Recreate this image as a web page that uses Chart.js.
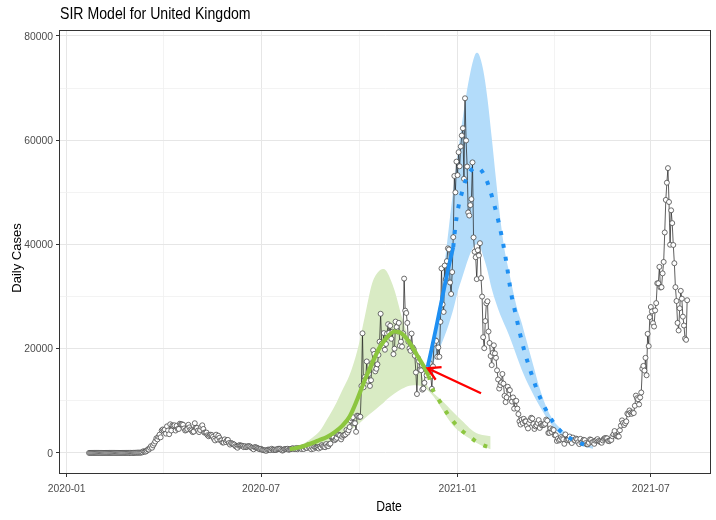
<!DOCTYPE html>
<html><head><meta charset="utf-8">
<script src="https://cdn.jsdelivr.net/npm/chart.js@4.4.1/dist/chart.umd.min.js"></script>
<style>html,body{margin:0;padding:0;background:#fff;overflow:hidden}#wrap{position:relative;width:716px;height:520px}</style>
</head><body><div id="wrap"><canvas id="c" width="716" height="520"></canvas></div>
<script>
// ---------- text ----------
const chartTitle = 'SIR Model for United Kingdom';
const xAxisTitle = 'Date';
const yAxisTitle = 'Daily Cases';

// ---------- axes ----------
const originDate = '2020-01-01';            // day 0 of the x axis
const xTickDays = [0, 182, 366, 547];       // 2020-01-01, 2020-07-01, 2021-01-01, 2021-07-01
const xTickLabels = ['2020-01', '2020-07', '2021-01', '2021-07'];
const yTickValues = [0, 20000, 40000, 60000, 80000];

// ---------- observed daily cases (one value per day) ----------
const obsFirstDate = '2020-01-22';
const dailyCases = [
  0,0,0,0,0,0,0,0,0,2,
  0,0,0,0,0,0,1,0,0,5,0,1,0,0,0,0,0,0,0,0,0,0,4,0,0,0,0,3,4,
  13,4,11,34,30,48,43,67,48,60,80,130,340,250,250,410,680,640,1000,1300,1000,1450,1800,2200,2800,2600,3100,3500,3000,4300,4500,
  4300,4500,3700,5100,4300,3600,5500,4300,5300,5200,5300,4300,5200,4600,4600,5600,5500,5500,5400,4700,4300,4400,4600,5400,4900,4500,4300,4000,4100,5700,
  4800,4800,4300,4000,4400,5000,5300,4600,3900,3900,3900,3400,3200,3400,3500,3400,3100,2700,2400,3500,2600,3300,2900,2400,2400,2000,2000,2600,2100,2400,2500,
  1900,1600,1900,1800,1700,1600,1300,1200,1000,1400,1500,1400,1400,1300,1100,1300,1100,1200,1300,1300,1200,1000,900,700,1100,1100,1000,900,800,700,
  800,600,550,500,500,400,600,650,600,550,800,650,550,650,550,700,800,800,800,600,450,550,750,750,750,800,600,700,750,850,900,
  750,750,950,700,900,950,850,750,1050,750,1150,1000,950,1450,1050,1050,700,1100,800,1200,1050,1050,1050,850,1200,1050,1500,1300,1200,1100,1700,
  1300,1300,1700,1800,3000,3000,2950,2450,2650,2900,3550,3500,3350,2600,3100,3400,3400,3550,4400,3900,4350,4950,6200,6650,6850,5700,5700,4050,7150,7100,
  6900,6950,12850,22950,12600,14550,14150,17550,13850,15150,12850,13950,17250,19700,19000,15650,16150,17000,18800,21350,26700,21000,20550,23000,19800,20900,22900,24700,23050,24400,21900,
  23250,18950,20000,25200,24150,23300,24950,20550,21350,20400,22950,33450,27300,26850,24950,21350,20050,19600,22900,20250,19900,18650,15450,11300,18200,17550,16000,15850,12150,12350,
  13450,16150,14900,16300,15550,17250,14700,12300,16600,20950,21650,21500,18450,20250,18450,25150,35400,28500,27050,35950,33350,36800,39250,39050,32700,30500,34700,41400,53150,50000,55900,
  53300,57700,55000,58800,60900,62300,52600,68050,59950,54950,46150,45550,47550,48700,55750,41350,38600,37550,33350,38900,37900,40250,33550,30000,22200,20100,25300,28700,29100,23300,21100,
  18600,16850,19200,20650,19100,18250,15850,14100,12350,13000,13500,15150,13300,10950,9750,10650,12700,12050,12050,10400,9850,10650,8500,9950,10000,8500,7450,6050,
  5450,6400,5750,6550,6050,6050,5200,4700,5750,6300,6750,6600,5550,4600,5100,5300,5750,6300,4800,5600,5300,5350,5400,5600,6400,6200,3850,3850,4700,4050,4500,
  4400,3400,3400,2300,2750,2400,2600,3050,2800,2600,1750,3550,2450,2500,2650,3150,2200,1900,2950,2500,2400,2750,2600,2050,1700,2700,1950,2150,2500,2450,
  1900,1650,1650,1950,2600,2500,2050,2050,1750,2350,2450,2650,2300,2200,2050,1950,2400,2700,2850,2850,2800,2300,2250,2450,2500,3200,3550,4200,3400,3250,3150,
  3150,4350,5250,6250,5750,5350,5700,6050,7550,7400,8150,7750,7500,7750,7650,9050,11000,10500,10300,9300,10650,11600,16150,16700,15800,18250,14900,22850,20500,26050,
  28000,27150,24900,24250,27350,28750,32550,32550,35700,31750,31800,34450,36650,42300,48550,51850,54650,48150,39950,46550,44100,39900,36400,31800,29150,24950,23500,27750,31100,29600,26150,
  24450,21950,21700,29300
];

// ---------- model for wave 2 (green), days since originDate ----------
const greenFitDays  = [209,216,223,230,237,244,251,258,265,272,279,286,293,300,307,314,321,328,335,339];
const greenFitCases = [700,1000,1400,1900,2500,3100,4000,5200,7000,10200,13900,17200,20200,22200,23300,22900,21200,18800,16400,14800];
const greenProjDays  = [339,342,349,356,363,370,377,384,391,397];
const greenProjCases = [14800,12600,10000,7700,5800,4300,3200,2100,1400,1000];
const greenBandDays = [209,216,223,230,237,244,251,258,265,272,279,286,293,297,300,307,314,321,328,335,342,349,356,363,370,377,384,391,397];
const greenBandLow  = [200,350,550,800,1100,1500,2300,3200,4300,5300,6600,7800,9000,9700,10300,11400,12300,12900,13000,12500,11200,9200,6900,5000,3800,2800,1900,1200,700];
const greenBandHigh = [900,1300,1900,2900,4200,6500,9000,12000,15000,19500,26000,32500,35000,35300,34700,31200,26000,21500,17200,13800,11800,10500,9100,7600,6200,4800,3800,3400,3200];

// ---------- model for wave 3 (blue) ----------
const blueFitDays  = [338,342,346,350,354,358,362];
const blueFitCases = [16500,20200,24100,28100,32100,36000,39500];
const blueProjDays  = [362,364,366,368,370,372,376,380,384,388,392,396,400,404,408,412,416,420,424,428,432,436,440,444,448,452,456,460,464,468,472,476,480,484,488,492];
const blueProjCases = [39500,43500,46300,48300,49900,51400,53400,54500,54800,54300,52900,50700,47900,44700,40900,36200,30800,27000,23300,20000,17200,14700,12300,10300,8600,7100,5800,4700,3900,3300,2750,2300,1950,1650,1350,1100];
const blueBandDays = [338,342,346,350,354,358,362,366,370,374,378,382,384,386,390,394,398,402,406,410,414,418,422,426,430,434,438,442,446,450,454,458,462,466,470,474,478,482,486,490,493];
const blueBandLow  = [16300,17000,18500,20400,22500,24800,27500,30800,33400,36000,38300,39800,40100,40000,37800,35000,31500,28800,26500,24600,22700,20500,18200,16000,14100,12400,10800,9300,7900,6500,5400,4400,3600,2900,2400,2000,1650,1400,1150,950,800];
const blueBandHigh = [16800,20800,25000,30000,36500,43500,50500,57000,63000,68500,73000,76200,76800,76500,73500,68000,60500,52500,45000,39000,35000,31000,27500,25000,22000,19000,16000,13000,10500,8400,6800,5600,4800,4100,3500,2950,2500,2150,1800,1500,1250];

// ---------- red arrow annotation: [day, cases] ----------
const arrowTail = [388, 11450];
const arrowHead = [338, 16250];

// ================= build =================
const DAY_MS = 86400000;
const dayIndex = iso => Math.round((Date.parse(iso) - Date.parse(originDate)) / DAY_MS);
const obsStartDay = dayIndex(obsFirstDate);
const observed = dailyCases.map((v, i) => ({x: obsStartDay + i, y: v}));
const pts = (days, vals) => days.map((d, i) => ({x: d, y: vals[i]}));

const xGridDays = [];
xTickDays.forEach((d, i) => { xGridDays.push(d); if (i < xTickDays.length - 1) xGridDays.push((d + xTickDays[i + 1]) / 2); });
const yGridValues = [];
yTickValues.forEach((v, i) => { yGridValues.push(v); if (i < yTickValues.length - 1) yGridValues.push((v + yTickValues[i + 1]) / 2); });

const FONT = '"Liberation Sans", Arial, sans-serif';

const GREEN = '#8cc63f', GREEN_BAND = '#d9ebc4';
const BLUE = '#1e8ff2', BLUE_BAND = '#b3dcfa';

const band = (data, fillTarget, color, order) => ({
  type: 'line', data, order, borderWidth: 0, pointRadius: 0,
  fill: fillTarget, backgroundColor: color, cubicInterpolationMode: 'monotone'
});

// draws text horizontally condensed (the reference uses a narrow face)
function narrowText(ctx, text, x, y, size, color, align, baseline, squeeze, rot) {
  ctx.save();
  ctx.translate(x, y);
  if (rot) ctx.rotate(rot);
  ctx.scale(squeeze, 1);
  ctx.font = size + 'px ' + FONT;
  ctx.fillStyle = color;
  ctx.textAlign = align;
  ctx.textBaseline = baseline;
  ctx.fillText(text, 0, 0);
  ctx.restore();
}

const ggPlugin = {
  id: 'gg',
  afterDatasetsDraw(chart) {
    const ctx = chart.ctx, a = chart.chartArea;
    const sx = chart.scales.x, sy = chart.scales.y;
    // red arrow
    const x1 = sx.getPixelForValue(arrowTail[0]), y1 = sy.getPixelForValue(arrowTail[1]);
    const x2 = sx.getPixelForValue(arrowHead[0]), y2 = sy.getPixelForValue(arrowHead[1]);
    const ang = Math.atan2(y2 - y1, x2 - x1), L = 14, h = Math.PI / 6;
    ctx.save();
    ctx.strokeStyle = '#ff0000'; ctx.lineWidth = 2.3; ctx.lineCap = 'butt';
    ctx.beginPath(); ctx.moveTo(x1, y1); ctx.lineTo(x2, y2);
    ctx.moveTo(x2 - L * Math.cos(ang - h), y2 - L * Math.sin(ang - h));
    ctx.lineTo(x2, y2);
    ctx.lineTo(x2 - L * Math.cos(ang + h), y2 - L * Math.sin(ang + h));
    ctx.stroke();
    // panel border
    ctx.strokeStyle = '#333333'; ctx.lineWidth = 1;
    ctx.strokeRect(Math.round(a.left) - 0.5, Math.round(a.top) + 0.5, Math.round(a.right - a.left), Math.round(a.bottom - a.top));
    ctx.restore();
  },
  afterDraw(chart) {
    const ctx = chart.ctx, a = chart.chartArea;
    const sx = chart.scales.x, sy = chart.scales.y;
    narrowText(ctx, chartTitle, a.left, 18.5, 17, '#000', 'left', 'alphabetic', 0.83);
    xTickDays.forEach((d, i) => narrowText(ctx, xTickLabels[i], sx.getPixelForValue(d), a.bottom + 10, 11.5, '#4d4d4d', 'center', 'top', 0.9));
    yTickValues.forEach(v => narrowText(ctx, String(v), a.left - 7, sy.getPixelForValue(v) + 0.5, 11.5, '#4d4d4d', 'right', 'middle', 0.9));
    narrowText(ctx, xAxisTitle, (a.left + 716) / 2 + 1, 507, 14, '#000', 'center', 'middle', 0.87);
    narrowText(ctx, yAxisTitle, 17, 258, 13, '#000', 'center', 'middle', 1, -Math.PI / 2);
  }
};

new Chart(document.getElementById('c'), {
  type: 'line',
  data: {
    datasets: [
      band(pts(greenBandDays, greenBandLow), false, GREEN_BAND, 10),
      band(pts(greenBandDays, greenBandHigh), '-1', GREEN_BAND, 10),
      band(pts(blueBandDays, blueBandLow), false, BLUE_BAND, 9),
      band(pts(blueBandDays, blueBandHigh), '-1', BLUE_BAND, 9),
      { label: 'observed', data: observed, order: 5, borderColor: '#1a1a1a', borderWidth: 0.7,
        pointRadius: 2.5, pointBorderWidth: 0.8, pointBorderColor: '#4a4a4a', pointBackgroundColor: '#ffffff', fill: false, tension: 0 },
      { label: 'green fit', data: pts(greenFitDays, greenFitCases), order: 2, borderColor: GREEN, borderWidth: 4.2,
        pointRadius: 0, fill: false, cubicInterpolationMode: 'monotone' },
      { label: 'green projection', data: pts(greenProjDays, greenProjCases), order: 2, borderColor: GREEN, borderWidth: 4,
        borderDash: [4, 9], pointRadius: 0, fill: false, cubicInterpolationMode: 'monotone' },
      { label: 'blue fit', data: pts(blueFitDays, blueFitCases), order: 1, borderColor: BLUE, borderWidth: 3.8,
        pointRadius: 0, fill: false, cubicInterpolationMode: 'monotone' },
      { label: 'blue projection', data: pts(blueProjDays, blueProjCases), order: 1, borderColor: BLUE, borderWidth: 4,
        borderDash: [4, 9], pointRadius: 0, fill: false, cubicInterpolationMode: 'monotone' }
    ]
  },
  options: {
    responsive: false, animation: false, devicePixelRatio: 1,
    layout: { padding: { top: 30, right: 0, left: 0, bottom: 0 } },
    plugins: { legend: { display: false }, tooltip: { enabled: false }, title: { display: false }, filler: { propagate: false } },
    scales: {
      x: {
        type: 'linear', min: -6.2, max: 603.5,
        afterBuildTicks: s => { s.ticks = xGridDays.map(v => ({value: v})); },
        afterFit: s => { s.height = 47; },
        ticks: { autoSkip: false, maxRotation: 0, padding: 4, color: 'rgba(0,0,0,0)', font: { family: FONT, size: 11 },
          callback: v => { const i = xTickDays.indexOf(v); return i >= 0 ? xTickLabels[i] : ''; } },
        grid: {
          color: c => xTickDays.includes(c.tick.value) ? '#e6e6e6' : '#f0f0f0',
          lineWidth: c => xTickDays.includes(c.tick.value) ? 1 : 0.8,
          tickLength: 4, drawTicks: true,
          tickColor: c => xTickDays.includes(c.tick.value) ? '#333333' : 'rgba(0,0,0,0)'
        },
        border: { display: false },
        title: { display: false }
      },
      y: {
        type: 'linear', min: -3850, max: 81150,
        afterBuildTicks: s => { s.ticks = yGridValues.map(v => ({value: v})); },
        afterFit: s => { s.width = 60; },
        ticks: { autoSkip: false, padding: 3, color: 'rgba(0,0,0,0)', font: { family: FONT, size: 11 },
          callback: v => yTickValues.includes(v) ? String(v) : '' },
        grid: {
          color: c => yTickValues.includes(c.tick.value) ? '#e6e6e6' : '#f0f0f0',
          lineWidth: c => yTickValues.includes(c.tick.value) ? 1 : 0.8,
          tickLength: 4, drawTicks: true,
          tickColor: c => yTickValues.includes(c.tick.value) ? '#333333' : 'rgba(0,0,0,0)'
        },
        border: { display: false },
        title: { display: false }
      }
    }
  },
  plugins: [ggPlugin]
});
</script>
</body></html>
